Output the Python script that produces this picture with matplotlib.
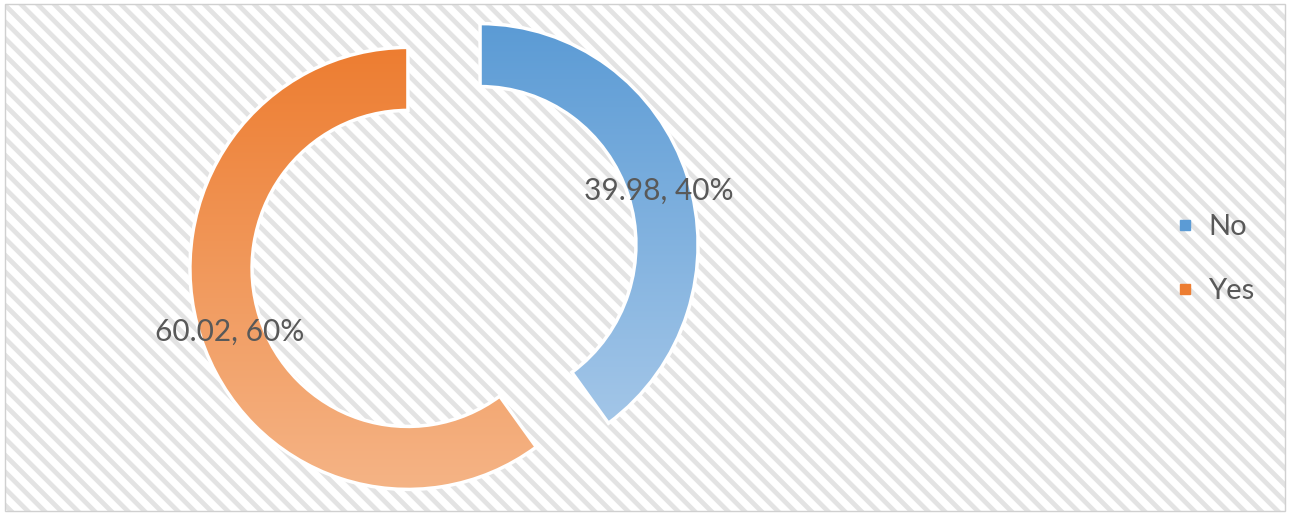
import matplotlib.pyplot as plt
import numpy as np
from matplotlib.colors import to_rgb
from matplotlib.lines import Line2D
from matplotlib.patches import Rectangle

# data
labels = ['No', 'Yes']
values = [39.98, 60.02]
top_colors = ['#5b9bd5', '#ed7d31']
bottom_colors = ['#a3c6e8', '#f5b486']

plt.rcParams['font.family'] = ['Lato', 'DejaVu Sans']
plt.rcParams['hatch.color'] = '#e3e3e3'
plt.rcParams['hatch.linewidth'] = 3.4

fig = plt.figure(figsize=(12.9, 5.15), dpi=100)

# hatched background with thin frame (behind the axes)
bg = Rectangle((0.004, 0.008), 0.992, 0.984, transform=fig.transFigure,
               facecolor='white', edgecolor='#e3e3e3', hatch='\\\\', lw=0, zorder=-2)
fig.add_artist(bg)
frame = Rectangle((0.004, 0.008), 0.992, 0.984, transform=fig.transFigure,
                  facecolor='none', edgecolor='#d0d0d0', lw=1, zorder=-1)
fig.add_artist(frame)

ax = fig.add_axes([0, 0, 1, 1])
ax.patch.set_visible(False)

wedges, texts, autotexts = ax.pie(
    values, startangle=90, counterclock=False,
    explode=[0.174, 0.174],
    wedgeprops=dict(width=0.285, edgecolor='white', linewidth=2.5),
    autopct=lambda p: f'{p:.2f}, {p:.0f}%', pctdistance=0.86,
    textprops=dict(color='#595959', fontsize=21.5))
for t in autotexts:
    t.set_y(t.get_position()[1] - 0.022)

# vertical gradient inside each wedge
for w, c0, c1 in zip(wedges, top_colors, bottom_colors):
    verts = w.get_path().vertices
    x0, x1 = verts[:, 0].min(), verts[:, 0].max()
    y0, y1 = verts[:, 1].min(), verts[:, 1].max()
    t = np.linspace(0, 1, 256)[:, None]
    grad = (1 - t) * np.array(to_rgb(c0)) + t * np.array(to_rgb(c1))
    img = ax.imshow(grad[:, None, :], extent=(x0, x1, y0, y1), origin='upper',
                    aspect='auto', zorder=w.get_zorder() - 0.1, interpolation='bilinear')
    img.set_clip_path(w)
    w.set_facecolor('none')

# 1 unit = 218 px across, 221 px down; donut centre at (444, 256.5) px from top-left
sx, sy = 218.0, 221.0
ax.set_xlim(-444 / sx, (1290 - 444) / sx)
ax.set_ylim(-(515 - 256.5) / sy, 256.5 / sy)
ax.set_aspect('auto')
ax.axis('off')

handles = [Line2D([], [], marker='s', linestyle='none', markersize=7,
                  markerfacecolor=c, markeredgecolor=c) for c in top_colors]
ax.legend(handles, labels, loc='center left', bbox_to_anchor=(0.889, 0.497),
          frameon=False, fontsize=21, labelcolor='#595959',
          labelspacing=1.3, handletextpad=0.4, handlelength=0.8)

fig.savefig('out.png', dpi=100)
